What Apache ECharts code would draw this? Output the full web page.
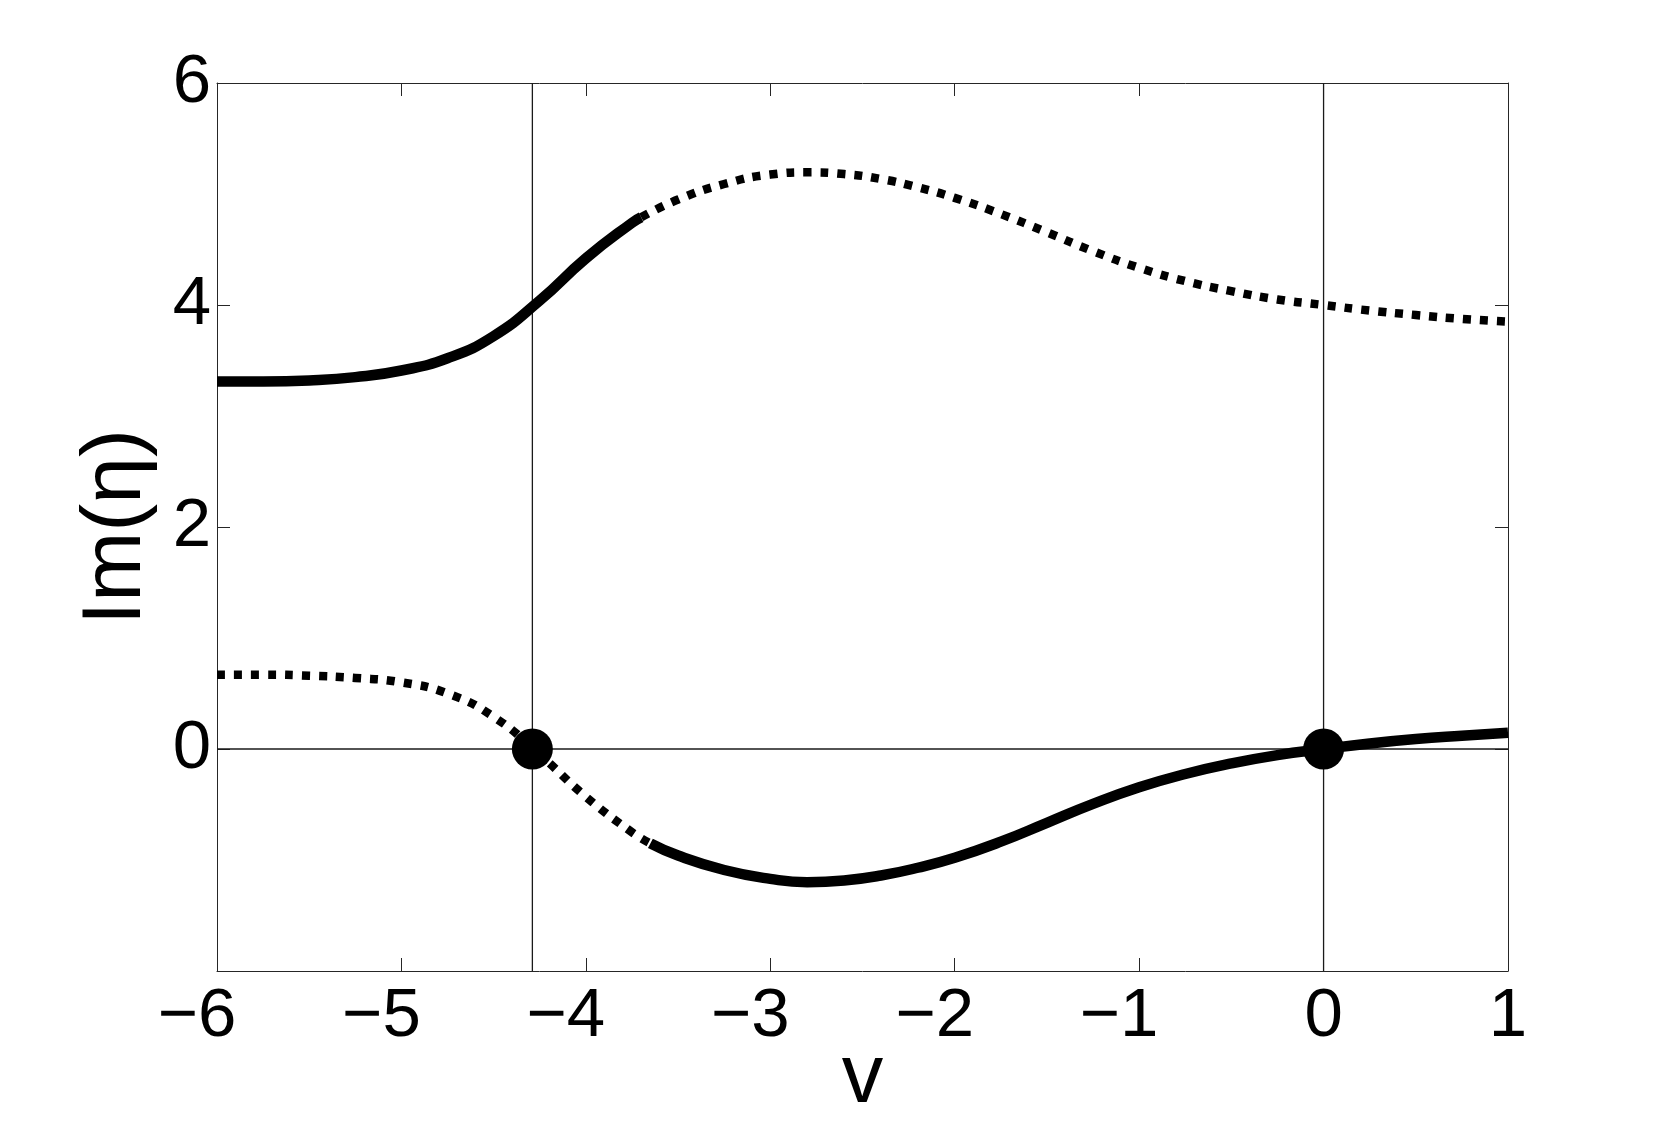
<!DOCTYPE html>
<html>
<head>
<meta charset="utf-8">
<script src="https://cdn.jsdelivr.net/npm/echarts@6/dist/echarts.min.js"></script>
<style>
html,body{margin:0;padding:0;background:#fff;}
#chart{width:1666px;height:1127px;}
</style>
</head>
<body>
<div id="chart"></div>
<script>
// Upper branch (solid part, then dotted part)
const xUpperSolid = [-6, -5.75, -5.5, -5.25, -5, -4.75, -4.5, -4.25, -4.0, -3.75, -3.7];
const yUpperSolid = [3.31, 3.31, 3.32, 3.35, 3.41, 3.52, 3.72, 4.04, 4.42, 4.74, 4.79];
const xUpperDot = [-3.7, -3.5, -3.25, -3.0, -2.8, -2.6, -2.4, -2.2, -2.0, -1.75, -1.5, -1.25, -1.0, -0.75, -0.5, -0.25, 0, 0.25, 0.5, 0.75, 1.0];
const yUpperDot = [4.79, 4.95, 5.09, 5.175, 5.195, 5.18, 5.135, 5.06, 4.965, 4.82, 4.655, 4.485, 4.335, 4.215, 4.125, 4.05, 4.00, 3.95, 3.91, 3.875, 3.85];
// Lower branch (dotted part, then solid part)
const xLowerDot = [-6, -5.75, -5.5, -5.25, -5, -4.75, -4.5, -4.25, -4.0, -3.75, -3.65];
const yLowerDot = [0.67, 0.67, 0.66, 0.64, 0.60, 0.50, 0.29, -0.05, -0.43, -0.75, -0.85];
const xLowerSolid = [-3.65, -3.5, -3.25, -3.0, -2.8, -2.6, -2.4, -2.2, -2.0, -1.75, -1.5, -1.25, -1.0, -0.75, -0.5, -0.25, 0, 0.25, 0.5, 0.75, 1.0];
const yLowerSolid = [-0.85, -0.96, -1.09, -1.17, -1.20, -1.185, -1.14, -1.07, -0.98, -0.835, -0.665, -0.495, -0.345, -0.225, -0.13, -0.055, 0.0, 0.05, 0.09, 0.12, 0.147];
// Marked points
const markerX = [-4.29, 0];
const markerY = [0, 0];
// Reference lines
const refVX = [-4.29, 0];
const refHY = [0];
// Axes
const xMin = -6, xMax = 1, xStep = 1;
const yMin = -2, yMax = 6, yStep = 2;
const xName = 'v';
const yName = 'Im(η)';

const zip = (xs, ys) => xs.map((x, i) => [x, ys[i]]);
const fmt = v => (v < 0 ? '\u2212' + Math.abs(v) : String(v));
// negative labels: keep the digit centred on the tick, minus hanging left (as in the original)
const fmtX = v => (v < 0 ? '\u2212' + Math.abs(v) + '{s|\u00a0}' : String(v));
const FONT = 'Liberation Sans, Arial, Helvetica, sans-serif';
const AX = '#262626';

const refSeries = [];
refVX.forEach(x => refSeries.push({
  type: 'line', data: [[x, yMin], [x, yMax]], symbol: 'none', silent: true, z: 1,
  lineStyle: { color: '#1a1a1a', width: 1.3 }
}));
refHY.forEach(y => refSeries.push({
  type: 'line', data: [[xMin, y], [xMax, y]], symbol: 'none', silent: true, z: 1,
  lineStyle: { color: '#1a1a1a', width: 1.3 }
}));

const solid = { color: '#000', width: 10.5, cap: 'butt', join: 'round' };
const dotted = { color: '#000', width: 8.5, type: [8, 9], cap: 'butt', join: 'round' };

const chart = echarts.init(document.getElementById('chart'), null, { renderer: 'canvas' });
chart.setOption({
  animation: false,
  backgroundColor: '#fff',
  grid: { left: 217, right: 158, top: 83, bottom: 156, containLabel: false, outerBoundsMode: 'none' },
  xAxis: [{
    type: 'value', min: xMin, max: xMax, interval: xStep, position: 'bottom',
    axisLine: { show: true, onZero: false, lineStyle: { color: AX, width: 1 } },
    axisTick: { show: true, inside: true, length: 13, lineStyle: { color: AX, width: 1 } },
    axisLabel: { show: true, margin: 11, fontSize: 69, color: '#000', fontFamily: FONT, formatter: fmtX,
      rich: { s: { width: 40, fontSize: 69, fontFamily: FONT } } },
    splitLine: { show: false },
    name: xName, nameLocation: 'middle', nameGap: 67, nameMoveOverlap: false,
    nameTextStyle: { fontSize: 83, color: '#000', fontFamily: FONT }
  }, {
    type: 'value', min: xMin, max: xMax, interval: xStep, position: 'top',
    axisLine: { show: true, onZero: false, lineStyle: { color: AX, width: 1 } },
    axisTick: { show: true, inside: true, length: 13, lineStyle: { color: AX, width: 1 } },
    axisLabel: { show: false }, splitLine: { show: false }
  }],
  yAxis: [{
    type: 'value', min: yMin, max: yMax, interval: yStep, position: 'left',
    axisLine: { show: true, onZero: false, lineStyle: { color: AX, width: 1 } },
    axisTick: { show: true, inside: true, length: 13, lineStyle: { color: AX, width: 1 } },
    axisLabel: { show: true, margin: 6, fontSize: 69, color: '#000', fontFamily: FONT,
      formatter: v => (v === yMin ? '' : fmt(v)) },
    splitLine: { show: false },
    name: yName, nameLocation: 'middle', nameGap: 58,
    nameTextStyle: { fontSize: 84, color: '#000', fontFamily: FONT }
  }, {
    type: 'value', min: yMin, max: yMax, interval: yStep, position: 'right',
    axisLine: { show: true, onZero: false, lineStyle: { color: AX, width: 1 } },
    axisTick: { show: true, inside: true, length: 13, lineStyle: { color: AX, width: 1 } },
    axisLabel: { show: false }, splitLine: { show: false }
  }],
  series: refSeries.concat([
    { type: 'line', data: zip(xUpperSolid, yUpperSolid), symbol: 'none', smooth: 0.5, z: 3, lineStyle: solid },
    { type: 'line', data: zip(xUpperDot, yUpperDot), symbol: 'none', smooth: 0.5, z: 3, lineStyle: dotted },
    { type: 'line', data: zip(xLowerDot, yLowerDot), symbol: 'none', smooth: 0.5, z: 3, lineStyle: dotted },
    { type: 'line', data: zip(xLowerSolid, yLowerSolid), symbol: 'none', smooth: 0.5, z: 3, lineStyle: solid },
    { type: 'scatter', data: zip(markerX, markerY), symbol: 'circle', symbolSize: 41, z: 5,
      itemStyle: { color: '#000', opacity: 1 } }
  ])
});
</script>
</body>
</html>
